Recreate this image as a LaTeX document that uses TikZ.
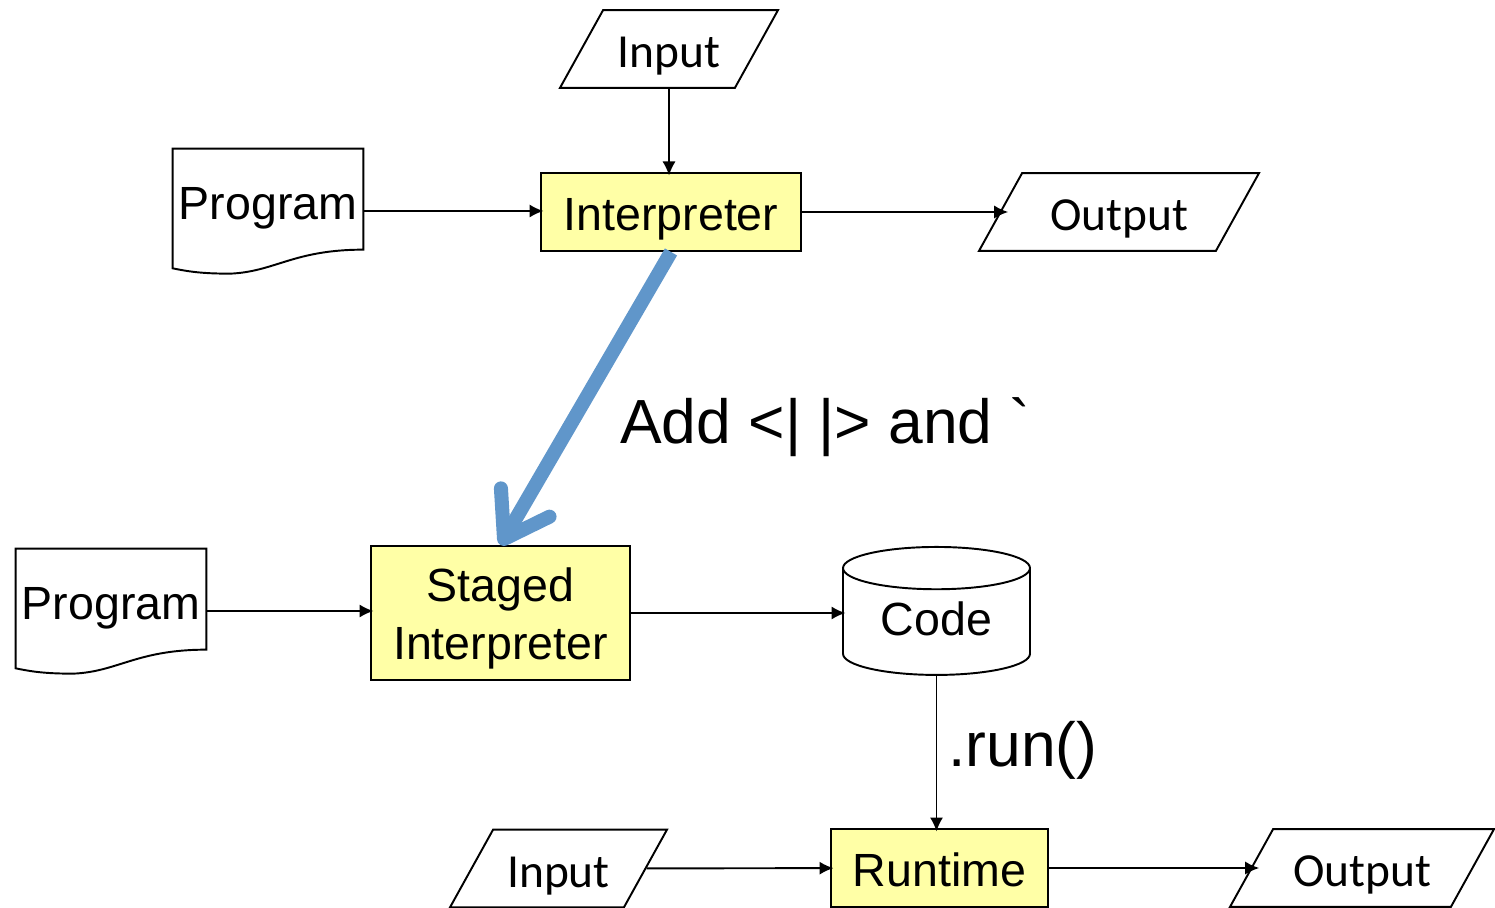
\documentclass[tikz,border=0pt]{standalone}
\usepackage{fontspec}
\setmainfont{Liberation Sans}
\newfontfamily\calfont{Carlito}
\usetikzlibrary{arrows.meta, shapes.geometric, calc, positioning}
\definecolor{boxyellow}{RGB}{255,255,166}
\definecolor{stageblue}{RGB}{96,150,202}
\tikzset{
  pto/.style={-{Latex[length=8pt,width=7.5pt]},line width=1.1pt,shorten >=-2pt},
  iopto/.style={pto,shorten >=-5pt},
  procbox/.style={draw,line width=1.1pt,fill=boxyellow,inner sep=0pt,align=center,
    text height=26pt,text depth=4.4pt,font=\fontsize{26.5}{33}\selectfont},
  iobox/.style={trapezium,trapezium left angle=61,trapezium right angle=119,trapezium stretches body,
    draw,line width=1.1pt,inner xsep=0pt,inner ysep=5.3pt,text height=27.6pt,text depth=6pt,
    font=\calfont\fontsize{27}{32}\selectfont},
  docbox/.style={inner sep=0pt,minimum width=3.8cm,minimum height=2.38cm,
    text height=24pt,text depth=12pt,font=\fontsize{26.5}{32}\selectfont},
  docline/.style={line width=1.1pt},
  store/.style={cylinder,shape border rotate=90,aspect=0.38,draw,line width=1.1pt,fill=white,inner sep=0pt,
    text height=22pt,text depth=7.2pt,font=\fontsize{26.5}{32}\selectfont},
  stagepto/.style={-{Straight Barb[length=24pt,width=32pt,round]},line width=8pt,stageblue},
  biglbl/.style={inner sep=0pt,font=\fontsize{35.5}{40}\selectfont}
}
% outline of a document shape round a named node
\newcommand{\docoutline}[1]{%
  \draw[docline] (#1.north west) -- (#1.north east) -- ++(0,101)
    .. controls +(-70,0) and +(45,-2) .. ++(-133,24)
    .. controls +(-30,0) and +(15,3) .. (#1.south west) -- cycle;}

\begin{document}
\begin{tikzpicture}[x=0.02cm,y=-0.02cm]
  \useasboundingbox (0,0) rectangle (1495,908);

  % interpreter
  \node[iobox,minimum width=4.36cm] (in1) at (669,49) {Input};
  \node[procbox,minimum width=5.2cm,minimum height=1.56cm] (interp) at (671,212) {Interpreter};
  \node[docbox] (prog1) at (268,208.5) {Program};
  \node[iobox,minimum width=5.6cm] (out1) at (1119,212) {Output};
  \docoutline{prog1}

  \draw[pto] (in1.south) -- (in1.south |- interp.north);
  \draw[pto] ([yshift=-0.05cm]prog1.east) -- ([yshift=-0.05cm]prog1.east -| interp.west);
  \draw[iopto] (interp.east) -- (out1);

  % staged interpreter
  \node[docbox] (prog2) at (111,608.5) {Program};
  \node[procbox,minimum width=5.18cm,minimum height=2.68cm,text height=60pt,text depth=6.8pt] (staged) at (500.5,613) {Staged\\Interpreter};
  \node[store,minimum width=3.74cm,minimum height=2.56cm] (code) at (936.5,622) {Code};
  \docoutline{prog2}

  \draw[pto] ([yshift=-0.05cm]prog2.east) -- ([yshift=-0.05cm]prog2.east -| staged.west);
  \draw[pto] (staged.east) -- (staged.east -| code.west);

  % runtime
  \node[procbox,minimum width=4.34cm,minimum height=1.56cm] (runtime) at (939.5,868) {Runtime};
  \node[iobox,minimum width=4.34cm] (in2) at (558.5,868.5) {Input};
  \node[iobox,minimum width=5.28cm] (out2) at (1362,868) {Output};

  \draw[pto] (code.south) -- (code.south |- runtime.north);
  \node[biglbl,anchor=west] (runlbl) at (948,750) {.run()};
  \draw[pto] (in2) -- (runtime);
  \draw[iopto] (runtime.east) -- (out2);

  % staging step
  \draw[stagepto] (interp.south) -- (staged.north);
  \node[biglbl,anchor=west] (addlbl) at (620,427) {Add <| |> and \textasciigrave};
\end{tikzpicture}
\end{document}
